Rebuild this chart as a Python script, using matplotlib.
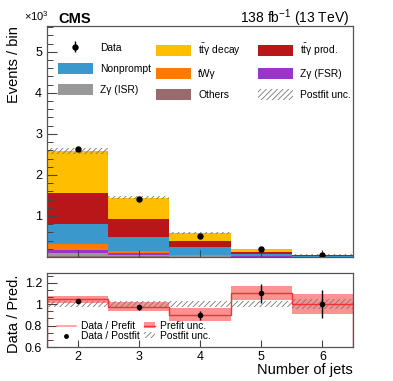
import matplotlib
matplotlib.use('Agg')
import matplotlib.pyplot as plt
import numpy as np
from matplotlib.patches import Patch
from matplotlib.lines import Line2D
from matplotlib.ticker import MultipleLocator, FixedLocator, NullFormatter

plt.rcParams['font.family'] = ['Liberation Sans', 'DejaVu Sans']
plt.rcParams['mathtext.fontset'] = 'custom'
plt.rcParams['mathtext.rm'] = 'Liberation Sans'
plt.rcParams['mathtext.it'] = 'Liberation Sans:italic'
plt.rcParams['mathtext.bf'] = 'Liberation Sans:bold'
plt.rcParams['hatch.linewidth'] = 0.6

# ---- data (events in units of 10^3) ----
njets = [2, 3, 4, 5, 6]
others = [0.03, 0.02, 0.010, 0.005, 0.002]
zg_isr = [0.07, 0.04, 0.015, 0.005, 0.002]
zg_fsr = [0.08, 0.03, 0.010, 0.005, 0.002]
twg = [0.13, 0.05, 0.015, 0.010, 0.004]
nonprompt = [0.49, 0.34, 0.19, 0.045, 0.015]
ttg_prod = [0.75, 0.45, 0.16, 0.060, 0.017]
ttg_decay = [1.03, 0.52, 0.18, 0.065, 0.018]
data = [2.64, 1.41, 0.52, 0.20, 0.055]
data_err = [0.05, 0.037, 0.023, 0.017, 0.007]
postfit_unc = [0.025, 0.025, 0.03, 0.03, 0.045]   # relative

ratio_postfit = [1.03, 0.97, 0.895, 1.10, 1.005]
ratio_postfit_err = [0.02, 0.025, 0.04, 0.09, 0.13]
ratio_prefit = [1.045, 0.975, 0.90, 1.10, 1.0]
prefit_unc = [0.035, 0.04, 0.06, 0.065, 0.095]

W, H = 393, 381
def fx(px): return px / W
def fy(py): return 1 - py / H

fig = plt.figure(figsize=(W / 100, H / 100), dpi=100)
ax = fig.add_axes([fx(47), fy(257), fx(353) - fx(47), fy(26) - fy(257)])
rx = fig.add_axes([fx(47), fy(347), fx(353) - fx(47), fy(273) - fy(347)])

x = np.array(njets, dtype=float)
edges = np.append(x - 0.5, x[-1] + 0.5)

procs = [
    (others, '#9a6b6e', 'Others'),
    (zg_isr, '#999999', 'Z\u03b3 (ISR)'),
    (zg_fsr, '#9b34c9', 'Z\u03b3 (FSR)'),
    (twg, '#ff7a00', 'tW\u03b3'),
    (nonprompt, '#3a98cc', 'Nonprompt'),
    (ttg_prod, '#b81618', r'$\mathrm{t\bar{t}}$' + '\u03b3 prod.'),
    (ttg_decay, '#ffbf00', r'$\mathrm{t\bar{t}}$' + '\u03b3 decay'),
]
bottom = np.zeros(len(x))
handles = {}
for vals, col, lab in procs:
    ax.bar(x, vals, width=1.0, bottom=bottom, color=col, lw=0)
    handles[lab] = Patch(facecolor=col, edgecolor='none')
    bottom = bottom + np.array(vals)
total = bottom
unc = total * np.array(postfit_unc)
ax.bar(x, 2 * unc, width=1.0, bottom=total - unc, fill=False, hatch='//////',
       edgecolor='#777777', lw=0)
dat = ax.errorbar(x, data, yerr=data_err, fmt='o', color='black', ms=3.6,
                  elinewidth=1, capsize=0)
hatch_h = Patch(facecolor='none', edgecolor='#777777', hatch='//////', lw=0)

ax.set_xlim(1.5, 6.5)
ax.set_ylim(0, 5.63)
ax.yaxis.set_major_locator(FixedLocator([1, 2, 3, 4, 5]))
ax.yaxis.set_minor_locator(MultipleLocator(0.2))
ax.xaxis.set_major_locator(FixedLocator(njets))
ax.xaxis.set_major_formatter(NullFormatter())
ax.set_ylabel('Events / bin', fontsize=10.5, loc='top')
ax.yaxis.set_label_coords(-0.085, 1.0)

# legend: three separate columns
lkw = dict(fontsize=7.4, frameon=False, handlelength=3.4, handleheight=1.3,
           labelspacing=0.95, handletextpad=0.7, borderpad=0, borderaxespad=0,
           loc='upper left', bbox_transform=fig.transFigure)
cols = [
    ([dat, handles['Nonprompt'], handles['Z\u03b3 (ISR)']],
     ['Data', 'Nonprompt', 'Z\u03b3 (ISR)'], 58),
    ([handles[procs[6][2]], handles['tW\u03b3'], handles['Others']],
     [procs[6][2], 'tW\u03b3', 'Others'], 156),
    ([handles[procs[5][2]], handles['Z\u03b3 (FSR)'], hatch_h],
     [procs[5][2], 'Z\u03b3 (FSR)', 'Postfit unc.'], 258),
]
for i, (hs, ls, px) in enumerate(cols):
    leg = ax.legend(hs, ls, bbox_to_anchor=(fx(px), fy(42)), **lkw)
    if i < len(cols) - 1:
        ax.add_artist(leg)

# ---- ratio panel ----
rx.bar(x, 2 * np.array(prefit_unc), width=1.0,
       bottom=np.array(ratio_prefit) - np.array(prefit_unc), color='#fc9292', lw=0)
rx.bar(x, 2 * np.array(postfit_unc), width=1.0, bottom=1 - np.array(postfit_unc),
       fill=False, hatch='//////', edgecolor='#777777', lw=0)
rx.stairs(ratio_prefit, edges, color='#f03232', lw=1.0)
rdat = rx.errorbar(x, ratio_postfit, yerr=ratio_postfit_err, fmt='o', color='black',
                   ms=3.0, elinewidth=1, capsize=0)
rx.set_xlim(1.5, 6.5)
rx.set_ylim(0.6, 1.29)
rx.yaxis.set_major_locator(FixedLocator([0.6, 0.8, 1.0, 1.2]))
rx.set_yticklabels(['0.6', '0.8', '1', '1.2'])
rx.yaxis.set_minor_locator(MultipleLocator(0.2 / 3))
rx.xaxis.set_major_locator(FixedLocator(njets))
rx.set_ylabel('Data / Pred.', fontsize=10.5)
rx.yaxis.set_label_coords(-0.085, 0.45)
rx.set_xlabel('Number of jets', fontsize=10.5, loc='right')
rx.xaxis.set_label_coords(1.0, -0.22)

rkw = dict(fontsize=7.4, frameon=False, handleheight=0.5, labelspacing=-0.02,
           handletextpad=0.5, borderpad=0, borderaxespad=0,
           loc='upper left', bbox_transform=fig.transFigure)
pre_line = Line2D([], [], color='#ff9a9a', lw=1.2)
post_pt = Line2D([], [], color='black', marker='o', ms=2.5, ls='none')
pre_band = (Patch(facecolor='#fc9292', edgecolor='none'), Line2D([], [], color='#f03232', lw=1))
l1 = rx.legend([pre_line, post_pt], ['Data / Prefit', 'Data / Postfit'],
               bbox_to_anchor=(fx(57), fy(321)), handlelength=1.8, **rkw)
rx.add_artist(l1)
rx.legend([pre_band, hatch_h], ['Prefit unc.', 'Postfit unc.'],
          bbox_to_anchor=(fx(144), fy(321)), handlelength=1.1, **rkw)

for a in (ax, rx):
    for s in a.spines.values():
        s.set_color('#555555')
        s.set_linewidth(0.9)
    a.tick_params(which='both', direction='in', color='#444444', labelsize=9)
    a.tick_params(which='major', length=7, width=0.8)
    a.tick_params(which='minor', length=4, width=0.7)
    a.tick_params(axis='x', which='major', length=5, pad=3)

fig.text(fx(58), fy(23), 'CMS', fontsize=10.5, fontweight='bold', va='baseline')
fig.text(fx(349), fy(23), r'138 fb$^{-1}$ (13 TeV)', fontsize=10, ha='right', va='baseline')
fig.text(fx(24), fy(21), r'$\times$10$^{3}$', fontsize=8, va='baseline')

fig.savefig('out.png', dpi=100)
